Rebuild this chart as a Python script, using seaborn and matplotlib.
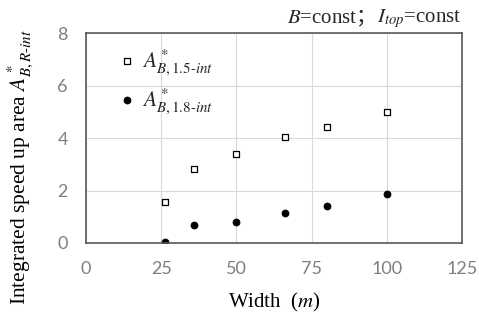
import matplotlib
matplotlib.use("Agg")
import matplotlib.pyplot as plt
import seaborn as sns
import pandas as pd

# Values
width = [26.3, 36, 50, 66.3, 80, 100]
a_15 = [1.56, 2.82, 3.39, 4.04, 4.42, 4.99]
a_18 = [0.05, 0.68, 0.80, 1.15, 1.41, 1.86]
x_ticks = [0, 25, 50, 75, 100, 125]
y_ticks = [0, 2, 4, 6, 8]

sns.set_theme(style="whitegrid")
plt.rcParams["font.family"] = ["Liberation Serif", "Noto Sans CJK SC", "DejaVu Sans"]
plt.rcParams["mathtext.fontset"] = "stix"

df = pd.DataFrame({"width": width, "a15": a_15, "a18": a_18})

fig = plt.figure(figsize=(4.79, 3.23), dpi=100)
ax = fig.add_axes([0.1795, 0.2477, 0.785, 0.650])

sns.scatterplot(data=df, x="width", y="a15", ax=ax, marker="s", s=22,
                facecolor="white", edgecolor="black", linewidth=0.9,
                label=r"$A^*_{\mathit{B,1.5}\text{-}\mathit{int}}$")
sns.scatterplot(data=df, x="width", y="a18", ax=ax, marker="o", s=26,
                color="black", edgecolor="black", linewidth=0.5,
                label=r"$A^*_{\mathit{B,1.8}\text{-}\mathit{int}}$")

ax.set_xlim(0, 125)
ax.set_ylim(0, 8)
ax.set_xticks(x_ticks)
ax.set_yticks(y_ticks)
ax.grid(True, color="#d9d9d9", linewidth=0.8)
for sp in ax.spines.values():
    sp.set_color("#595959")
    sp.set_linewidth(1.2)
ax.tick_params(axis="x", length=0, colors="#7f7f7f", pad=13)
ax.tick_params(axis="y", length=0, colors="#7f7f7f", pad=13)
for lab in ax.get_xticklabels() + ax.get_yticklabels():
    lab.set_fontfamily(["Lato", "DejaVu Sans"])
    lab.set_fontsize(13)

ax.set_xlabel(r"Width  ($m$)", fontsize=15, color="black", labelpad=10)
ax.set_ylabel(r"Integrated speed up area $A^*_{\mathit{B,R}\text{-}\mathit{int}}$",
              fontsize=15.5, color="black")
ax.yaxis.set_label_coords(-0.135, 0.36)

leg = ax.legend(loc="upper left", frameon=False, fontsize=15.5,
                handletextpad=-0.3, borderaxespad=0.0, labelspacing=0.45,
                bbox_to_anchor=(0.03, 0.975))

# title pieces: mathtext has no glyph fallback, so the full-width semicolon is its own text
y_base = 0.93
right = 0.963
t3 = fig.text(right, y_base, r"$I_{top}$=const", ha="right", va="baseline", fontsize=15)
t2 = fig.text(right, y_base, "；", ha="left", va="baseline", fontsize=15,
              fontfamily=["Noto Sans CJK SC"])
t1 = fig.text(right, y_base, r"$B$=const", ha="right", va="baseline", fontsize=15)
fig.canvas.draw()
r = fig.canvas.get_renderer()
w3 = t3.get_window_extent(r).width / fig.bbox.width
w2 = t2.get_window_extent(r).width / fig.bbox.width
t2.set_x(right - w3 - w2)
t1.set_x(right - w3 - w2 + 0.004)

fig.savefig("out.png", dpi=100)
